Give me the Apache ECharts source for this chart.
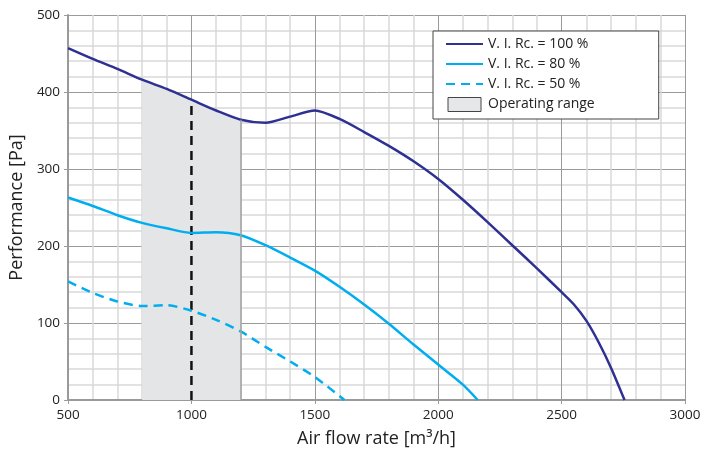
<!DOCTYPE html>
<html><head><meta charset="utf-8">
<script src="https://cdn.jsdelivr.net/npm/echarts@6/dist/echarts.min.js"></script>
<style>html,body{margin:0;padding:0;background:#fff}#c{width:715px;height:454px}</style>
</head><body><div id="c"></div>
<script>
const flow100 = [500,600,700,800,900,1000,1100,1200,1300,1400,1500,1600,1700,1800,1900,2000,2100,2200,2300,2400,2500,2550,2600,2650,2700,2755];
const perf100 = [457,443,430,416,404,390,376,364,360,368,376,365,348,330,310,287,260,231,201,171,140,124,103,75,42,0];
const flow80 = [500,600,700,800,900,1000,1100,1200,1300,1400,1500,1600,1700,1800,1900,2000,2100,2160];
const perf80 = [263,252,240,230,223,217,218,214,201,185,168,147,124,99,72,46,20,0];
const flow50 = [500,600,700,800,900,1000,1100,1200,1300,1400,1500,1620];
const perf50 = [154,139,128,122,123,116,104,89,69,50,30,0];
const rangeFlow = [800,900,1000,1100,1200];
const rangePerf = [416,404,390,376,364];
const opPoint = [1000, 390];
const xTicks = [500,1000,1500,2000,2500,3000];
const yTicks = [0,100,200,300,400,500];
const names = ['V. I. Rc. = 100 %','V. I. Rc. = 80 %','V. I. Rc. = 50 %','Operating range'];

const zip = (a,b)=>a.map((v,i)=>[v,b[i]]);
const FONT = 'Open Sans';
const SM = 0.25;
const chart = echarts.init(document.getElementById('c'));
const lineLegendStyle = {opacity:0};
chart.setOption({
  animation:false,
  textStyle:{fontFamily:FONT},
  grid:{left:65,right:30,top:15,bottom:54},
  legend:{
    left:433, top:31, orient:'vertical', width:225,
    backgroundColor:'#fff', borderColor:'#444', borderWidth:1,
    padding:[6,64,7,12], itemGap:6, itemWidth:37, itemHeight:14,
    textStyle:{fontFamily:FONT,fontSize:14,color:'#222'},
    data:[
      {name:names[0], itemStyle:lineLegendStyle},
      {name:names[1], itemStyle:lineLegendStyle},
      {name:names[2], itemStyle:lineLegendStyle},
      {name:names[3], icon:'path://M2,0H35V14H2Z', itemStyle:{color:'#e6e7e8',borderColor:'#444',borderWidth:1,opacity:1}}
    ]
  },
  xAxis:{
    type:'value', min:xTicks[0], max:xTicks[xTicks.length-1], interval:500,
    name:'Air flow rate [m³/h]', nameLocation:'middle', nameGap:30,
    nameTextStyle:{fontFamily:FONT,fontSize:18,color:'#222'},
    axisLine:{show:true,lineStyle:{color:'#9a9a9a',width:2}},
    axisTick:{show:true,length:4,lineStyle:{color:'#9a9a9a'}},
    axisLabel:{fontFamily:FONT,fontSize:13.5,color:'#222',margin:8,formatter:v=>String(v)},
    splitLine:{show:true,lineStyle:{color:'#9a9a9a',width:1}},
    minorTick:{show:false,splitNumber:5},
    minorSplitLine:{show:true,lineStyle:{color:'#d9d9d9',width:1.5}}
  },
  yAxis:{
    type:'value', min:yTicks[0], max:yTicks[yTicks.length-1], interval:100,
    name:'Performance [Pa]', nameLocation:'middle', nameGap:36,
    nameTextStyle:{fontFamily:FONT,fontSize:18,color:'#222'},
    axisLine:{show:true,lineStyle:{color:'#9a9a9a',width:2}},
    axisTick:{show:true,length:4,lineStyle:{color:'#9a9a9a'}},
    axisLabel:{fontFamily:FONT,fontSize:13.5,color:'#222',margin:8,formatter:v=>String(v)},
    splitLine:{show:true,lineStyle:{color:'#9a9a9a',width:1}},
    minorTick:{show:false,splitNumber:5},
    minorSplitLine:{show:true,lineStyle:{color:'#d9d9d9',width:1.5}}
  },
  series:[
    {name:names[3], type:'line', data:zip(rangeFlow,rangePerf), smooth:SM, symbol:'none',
     lineStyle:{width:0,opacity:0}, itemStyle:{color:'#e6e7e8'},
     areaStyle:{color:'#e4e5e7',opacity:1}, z:1,
     markLine:{silent:true,symbol:'none',label:{show:false},
       lineStyle:{color:'#a0a0a0',width:1.5,type:'solid'},
       data:[[{coord:[rangeFlow[rangeFlow.length-1],0]},{coord:[rangeFlow[rangeFlow.length-1],rangePerf[rangePerf.length-1]]}]]}
    },
    {name:'op', type:'line', data:[[opPoint[0],0],opPoint], symbol:'none',
     lineStyle:{color:'#111',width:2.5,type:[9,6]}, z:3},
    {name:names[0], type:'line', data:zip(flow100,perf100), smooth:SM, symbol:'none',
     itemStyle:{color:'#2e3192'}, lineStyle:{color:'#2e3192',width:2.5}, z:4},
    {name:names[1], type:'line', data:zip(flow80,perf80), smooth:SM, symbol:'none',
     itemStyle:{color:'#00aeef'}, lineStyle:{color:'#00aeef',width:2.5}, z:4},
    {name:names[2], type:'line', data:zip(flow50,perf50), smooth:SM, symbol:'none',
     itemStyle:{color:'#00aeef'}, lineStyle:{color:'#00aeef',width:2.5,type:[9,6]}, z:4}
  ]
});
</script></body></html>
